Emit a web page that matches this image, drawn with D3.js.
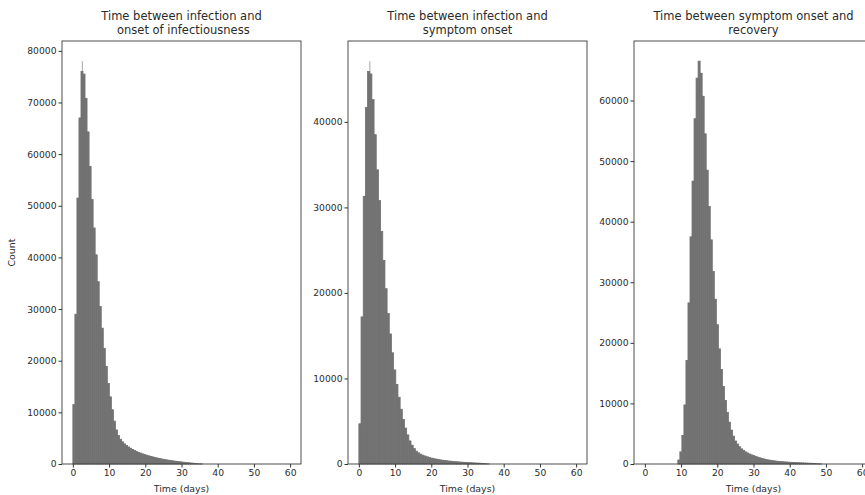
<!DOCTYPE html>
<html>
<head>
<meta charset="utf-8">
<script src="https://cdn.jsdelivr.net/npm/d3@7/dist/d3.min.js"></script>
<style>
body { margin: 0; background: #fff; }
text { font-family: "DejaVu Sans", sans-serif; fill: #2b2b2b; }
</style>
</head>
<body>
<svg width="865" height="495"></svg>
<script>
// histogram counts, one value per bin (bins start at bin_start, each bin_width days wide)
var bin_start_1 = 0, bin_width_1 = 0.56;
var counts_1 = [11500, 29000, 51500, 67000, 76000, 75500, 70800, 64300, 57600, 51200,
  45700, 40500, 35300, 30500, 26300, 22400, 18900, 15600, 13000, 10500,
  8300, 6600, 5500, 4800, 4300, 3900, 3600, 3300, 3050, 2800,
  2600, 2400, 2250, 2100, 1950, 1820, 1700, 1580, 1470, 1370,
  1270, 1170, 1080, 1000, 920, 850, 780, 720, 660, 600,
  550, 500, 450, 400, 350, 300, 260, 220, 180, 140,
  100, 60, 30, 10];
var spike_1 = [2.6, 78000];

var bin_start_2 = 0, bin_width_2 = 0.6;
var counts_2 = [4700, 17200, 31300, 41700, 45900, 45600, 42600, 38500, 34400, 30800,
  27200, 23800, 20500, 17600, 15200, 13000, 11000, 9300, 7800, 6400,
  5200, 4200, 3400, 2700, 2200, 1800, 1500, 1300, 1150, 1030,
  930, 840, 760, 690, 630, 580, 530, 480, 440, 405,
  375, 345, 320, 295, 272, 250, 230, 212, 195, 178,
  162, 148, 134, 120, 106, 92, 78, 55, 30, 10];
var spike_2 = [3.0, 47100];

var bin_start_3 = 9.1, bin_width_3 = 0.56;
var counts_3 = [660, 2000, 4700, 9750, 17100, 26600, 37500, 46700, 57000, 63700,
  66500, 64500, 60700, 54500, 48500, 42500, 37000, 31800, 27200, 23000,
  19000, 15600, 12800, 10500, 8500, 6900, 5600, 4600, 3800, 3300,
  2850, 2500, 2250, 2000, 1820, 1650, 1500, 1380, 1250, 1130,
  1020, 920, 830, 750, 680, 620, 570, 520, 480, 440,
  410, 380, 355, 330, 305, 285, 265, 248, 230, 212,
  196, 180, 165, 150, 136, 122, 108, 90, 60, 30, 10];
var spike_3 = null;

var titles = [
  ["Time between infection and", " onset of infectiousness"],
  ["Time between infection and", "symptom onset"],
  ["Time between symptom onset and", "recovery"]
];
var x_ticks = [0, 10, 20, 30, 40, 50, 60];
var y_ticks_1 = [0, 10000, 20000, 30000, 40000, 50000, 60000, 70000, 80000];
var y_ticks_2 = [0, 10000, 20000, 30000, 40000];
var y_ticks_3 = [0, 10000, 20000, 30000, 40000, 50000, 60000];

var SETTINGS = { top: 41, height: 423, width: 239, lefts: [62, 348, 634] };

var svg = d3.select("svg");

function draw_hist(idx, counts, start, width, spike, yTicks, withYLabel) {
  var w = SETTINGS.width, h = SETTINGS.height;
  var g = svg.append("g")
      .attr("transform", "translate(" + SETTINGS.lefts[idx] + "," + SETTINGS.top + ")");

  var x = d3.scaleLinear().domain([-3, 63]).range([0, w]);
  var ymax = d3.max(spike ? counts.concat([spike[1]]) : counts) * 1.05;
  var y = d3.scaleLinear().domain([0, ymax]).range([h, 0]);

  if (spike) {
    g.append("rect")
      .attr("x", x(spike[0]) - 0.5)
      .attr("width", 1.2)
      .attr("y", y(spike[1]))
      .attr("height", h - y(spike[1]))
      .attr("fill", "#b5b5b5");
  }

  g.selectAll(".bar")
      .data(counts)
    .enter().append("rect")
      .attr("class", "bar")
      .attr("x", function(d, i) { return x(start + i * width); })
      .attr("width", function(d, i) { return x(start + (i + 1) * width) - x(start + i * width); })
      .attr("y", function(d) { return y(d); })
      .attr("height", function(d) { return h - y(d); })
      .attr("fill", "#727272")
      .attr("stroke", "#727272")
      .attr("stroke-width", 0.8);

  var xAxis = g.append("g")
      .attr("transform", "translate(0," + h + ")")
      .call(d3.axisBottom(x).tickValues(x_ticks).tickSize(3.5).tickPadding(2));
  var yAxis = g.append("g")
      .call(d3.axisLeft(y).tickValues(yTicks).tickSize(3.5).tickPadding(2).tickFormat(d3.format("d")));
  [xAxis, yAxis].forEach(function(a) {
    a.select(".domain").remove();
    a.selectAll("line").attr("stroke", "#333");
    a.selectAll("text").style("font-size", "9.2px").attr("fill", "#2b2b2b");
  });

  g.append("rect")
    .attr("width", w).attr("height", h)
    .attr("fill", "none").attr("stroke", "#3a3a3a").attr("stroke-width", 0.9);

  g.append("text")
    .attr("x", w / 2).attr("y", h + 28)
    .attr("text-anchor", "middle")
    .style("font-size", "9.4px")
    .text("Time (days)");

  g.selectAll(".title")
      .data(titles[idx])
    .enter().append("text")
      .attr("class", "title")
      .attr("x", w / 2)
      .attr("y", function(d, i) { return -21 + i * 14; })
      .attr("text-anchor", "middle")
      .style("font-size", "11.5px")
      .style("white-space", "pre")
      .text(function(d) { return d; });

  if (withYLabel) {
    g.append("text")
      .attr("transform", "translate(-47," + (h / 2) + ") rotate(-90)")
      .attr("text-anchor", "middle")
      .style("font-size", "9.4px")
      .text("Count");
  }
}

draw_hist(0, counts_1, bin_start_1, bin_width_1, spike_1, y_ticks_1, true);
draw_hist(1, counts_2, bin_start_2, bin_width_2, spike_2, y_ticks_2, false);
draw_hist(2, counts_3, bin_start_3, bin_width_3, spike_3, y_ticks_3, false);
</script>
</body>
</html>
